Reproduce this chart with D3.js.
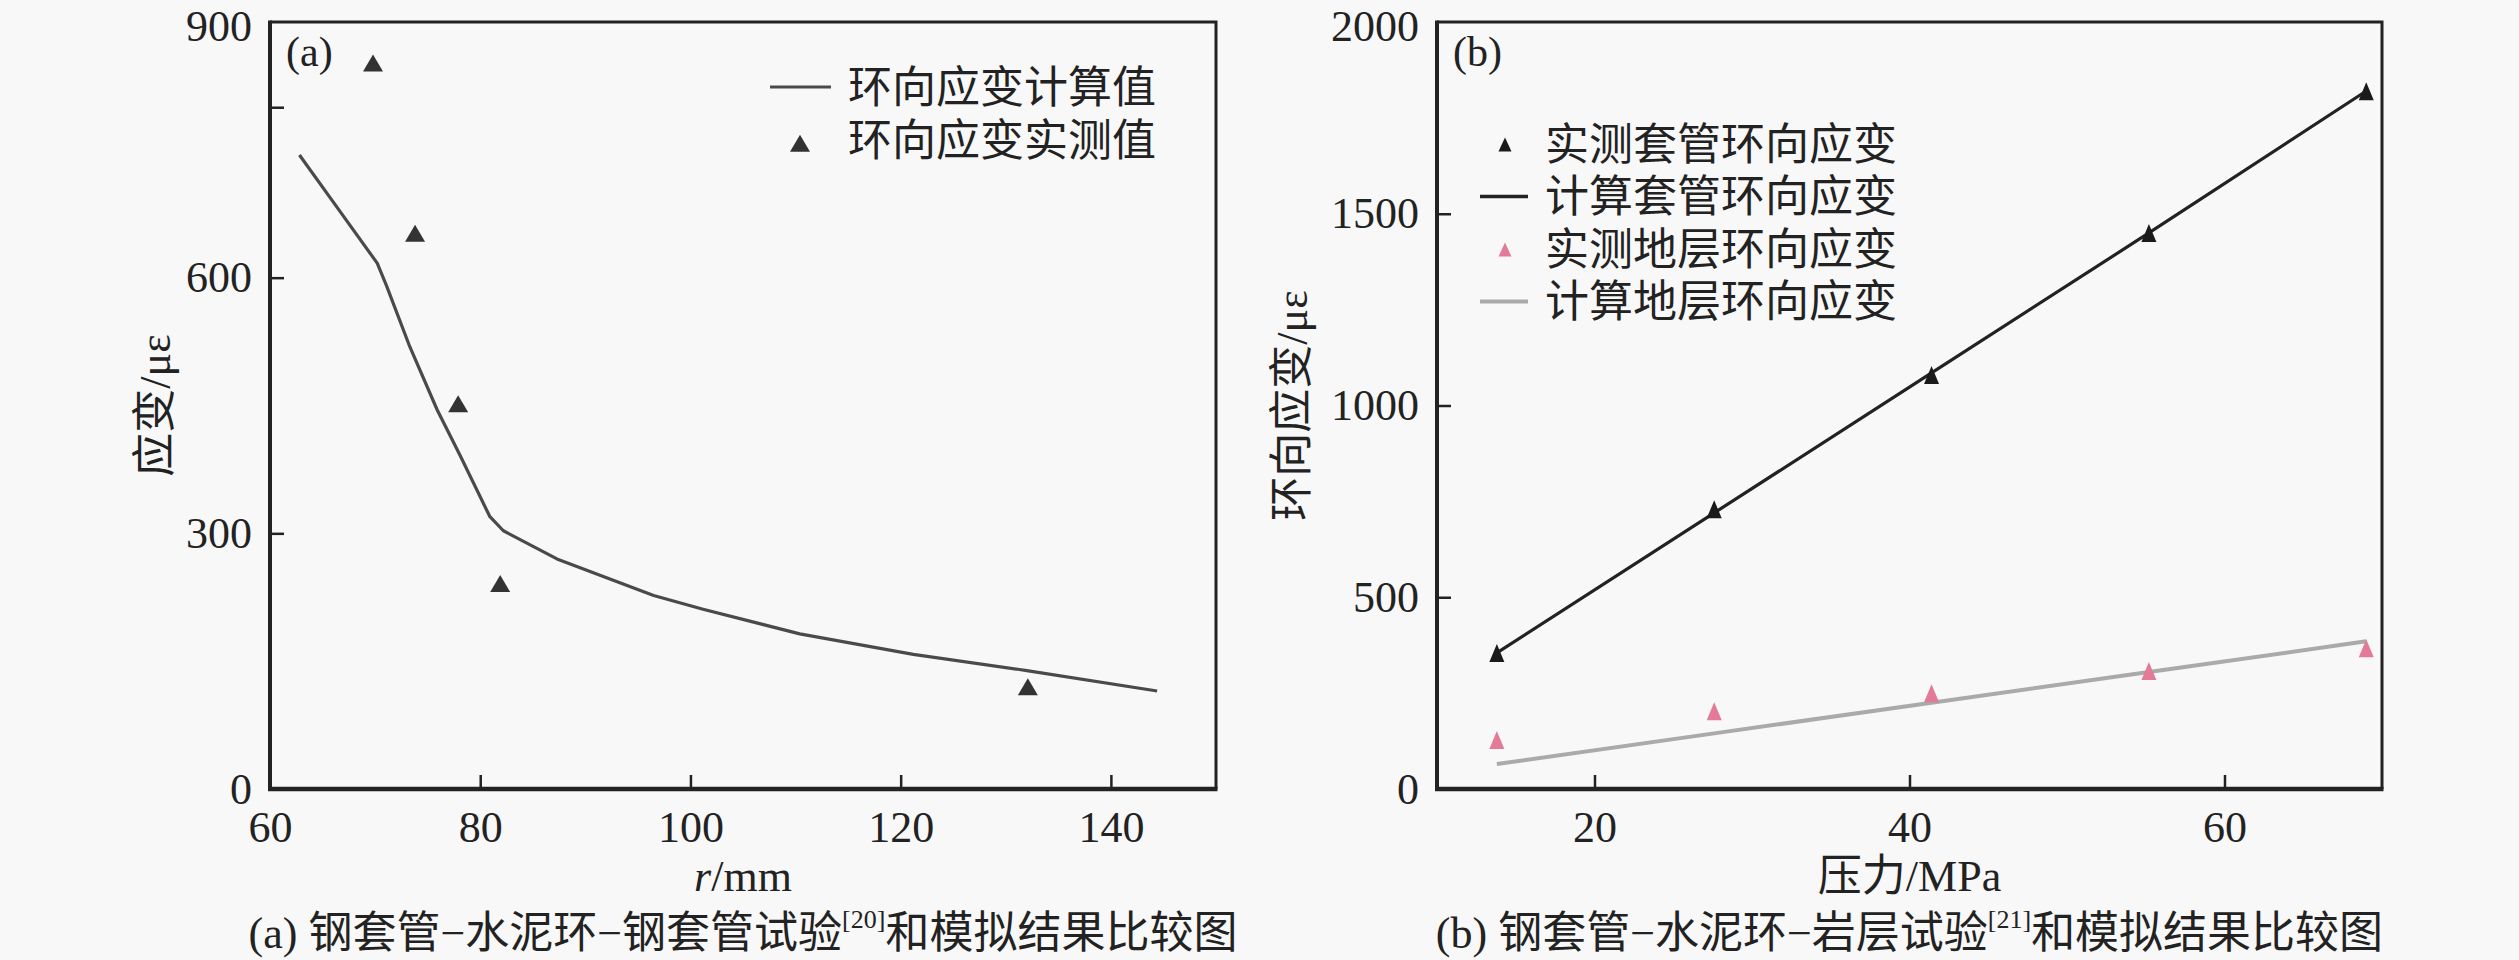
<!DOCTYPE html>
<html>
<head>
<meta charset="utf-8">
<script src="https://cdn.jsdelivr.net/npm/d3@7"></script>
<style>
    body { margin: 0; background: #f8f8f8; }
    svg { display: block; }
    text { font-family: "Liberation Serif", "Noto Sans CJK SC", serif; fill: #222; }
</style>
</head>
<body>
<div id="chart"></div>
<script>
// panel (a): radius vs strain
const radiusCalc = [62.8, 66.3, 70.2, 71.1, 73.3, 75.9, 78.1, 80.9, 82.2, 87.3, 92.4, 96.5, 101.2, 110.4, 121.2, 132.0, 144.4];
const strainCalc = [744, 684, 617, 590, 519, 445, 391, 320, 303, 270, 246, 227, 211, 182, 158, 139, 115];
const radiusMeas = [69.8, 73.8, 77.9, 81.9, 132.1];
const strainMeas = [850, 650, 450, 239, 118];
const aXTicks = [60, 80, 100, 120, 140];
const aYLabels = [0, 300, 600, 900];
const aYMarks = [300, 600, 800];

// panel (b): pressure vs hoop strain
const pressure = [13.8, 27.6, 41.4, 55.2, 69.0];
const casingMeas = [350, 725, 1075, 1445, 1815];
const casingCalc = [355, 720, 1085, 1450, 1820];
const formationMeas = [123, 198, 245, 303, 362];
const formationCalc = [65, 145, 225, 305, 385];
const bXTicks = [20, 40, 60];
const bYLabels = [0, 500, 1000, 1500, 2000];
const bYMarks = [500, 1000, 1500];

const W = 2519, H = 960;
const plotTop = 22, plotBottom = 789;

const svg = d3.select("#chart").append("svg")
    .attr("width", W)
    .attr("height", H);

svg.append("rect").attr("width", W).attr("height", H).attr("fill", "#f8f8f8");

// triangle that can be narrower than equilateral
function tri(w, h) {
    return {
        draw(ctx) {
            ctx.moveTo(0, -h * 0.6);
            ctx.lineTo(w / 2, h * 0.4);
            ctx.lineTo(-w / 2, h * 0.4);
            ctx.closePath();
        }
    };
}

function panel(opt) {
    const x = d3.scaleLinear().domain(opt.xDomain).range([opt.left, opt.right]);
    const y = d3.scaleLinear().domain(opt.yDomain).range([plotBottom, plotTop]);
    const g = svg.append("g");

    // x tick marks + labels
    g.append("g")
        .attr("transform", `translate(0,${plotBottom})`)
        .call(d3.axisBottom(x).tickValues(opt.xTicks).tickSizeInner(-14).tickSizeOuter(0).tickPadding(22).tickFormat(d3.format("d")))
        .attr("font-family", null)
        .call(a => a.select(".domain").remove())
        .call(a => a.selectAll("line").attr("stroke", "#222").attr("stroke-width", 2.5))
        .call(a => a.selectAll("text").attr("font-size", 44).attr("fill", "#222"));

    // y labels
    const yMax = opt.yDomain[1];
    g.append("g")
        .attr("transform", `translate(${opt.left},0)`)
        .call(d3.axisLeft(y).tickValues(opt.yLabels).tickSize(0).tickPadding(18).tickFormat(d3.format("d")))
        .attr("font-family", null)
        .call(a => a.select(".domain").remove())
        .call(a => a.selectAll("text").attr("font-size", 44).attr("fill", "#222")
            .attr("dy", d => d === yMax ? "0.42em" : "0.32em"));

    // y tick marks (inward)
    g.append("g")
        .attr("transform", `translate(${opt.left},0)`)
        .call(d3.axisLeft(y).tickValues(opt.yMarks).tickSize(-14).tickFormat(""))
        .call(a => a.select(".domain").remove())
        .call(a => a.selectAll("line").attr("stroke", "#222").attr("stroke-width", 2.5));

    // frame
    g.append("path")
        .attr("d", `M${opt.left},${plotTop}H${opt.right}V${plotBottom}`)
        .attr("fill", "none").attr("stroke", "#222").attr("stroke-width", 3);
    g.append("line")
        .attr("x1", opt.left).attr("x2", opt.left).attr("y1", plotTop - 1.5).attr("y2", plotBottom + 2)
        .attr("stroke", "#222").attr("stroke-width", 4);
    g.append("line")
        .attr("x1", opt.left - 2).attr("x2", opt.right + 1.5).attr("y1", plotBottom).attr("y2", plotBottom)
        .attr("stroke", "#222").attr("stroke-width", 4.5);

    // titles
    g.append("text")
        .attr("x", opt.left + 16).attr("y", 52)
        .attr("dominant-baseline", "central")
        .attr("font-size", 42)
        .text(opt.tag);

    g.append("text")
        .attr("transform", `translate(${opt.yTitleX},${(plotTop + plotBottom) / 2}) rotate(-90)`)
        .attr("text-anchor", "middle")
        .attr("dominant-baseline", "central")
        .attr("font-size", 44)
        .text(opt.yTitle);

    const xt = g.append("text")
        .attr("x", (opt.left + opt.right) / 2).attr("y", 876)
        .attr("text-anchor", "middle")
        .attr("dominant-baseline", "central")
        .attr("font-size", 44);
    opt.xTitle.forEach(p => xt.append("tspan").attr("font-style", p.italic ? "italic" : null).text(p.t));

    const cap = g.append("text")
        .attr("x", (opt.left + opt.right) / 2).attr("y", 933)
        .attr("text-anchor", "middle")
        .attr("dominant-baseline", "central")
        .attr("font-size", 44);
    cap.append("tspan").text(opt.caption[0]);
    cap.append("tspan").attr("font-size", 26).attr("dy", -14).text(opt.caption[1]);
    cap.append("tspan").attr("dy", 14).text(opt.caption[2]);

    return { g, x, y };
}

// ---------- panel (a)
const A = panel({
    left: 270, right: 1216,
    xDomain: [60, 150], yDomain: [0, 900],
    xTicks: aXTicks, yLabels: aYLabels, yMarks: aYMarks,
    tag: "(a)", yTitle: "应变/με", yTitleX: 155,
    xTitle: [{ t: "r", italic: true }, { t: "/mm" }],
    caption: ["(a) 钢套管−水泥环−钢套管试验", "[20]", "和模拟结果比较图"]
});

const lineA = d3.line().x(d => A.x(d[0])).y(d => A.y(d[1]));
A.g.append("path")
    .datum(d3.zip(radiusCalc, strainCalc))
    .attr("d", lineA)
    .attr("fill", "none").attr("stroke", "#4a4a4a").attr("stroke-width", 3.2)
    .attr("stroke-linejoin", "round");

A.g.selectAll(".tri")
    .data(d3.zip(radiusMeas, strainMeas))
    .join("path")
    .attr("transform", d => `translate(${A.x(d[0])},${A.y(d[1])})`)
    .attr("d", d3.symbol(tri(20, 17)))
    .attr("fill", "#333");

// legend (a)
A.g.append("line").attr("x1", 770).attr("x2", 831).attr("y1", 87).attr("y2", 87)
    .attr("stroke", "#4a4a4a").attr("stroke-width", 3.2);
A.g.append("text").attr("x", 848).attr("y", 88).attr("dominant-baseline", "central")
    .attr("font-size", 44).text("环向应变计算值");
A.g.append("path").attr("transform", "translate(800,145)").attr("d", d3.symbol(tri(20, 17))).attr("fill", "#333");
A.g.append("text").attr("x", 848).attr("y", 141).attr("dominant-baseline", "central")
    .attr("font-size", 44).text("环向应变实测值");

// ---------- panel (b)
const B = panel({
    left: 1437, right: 2382,
    xDomain: [10, 70], yDomain: [0, 2000],
    xTicks: bXTicks, yLabels: bYLabels, yMarks: bYMarks,
    tag: "(b)", yTitle: "环向应变/με", yTitleX: 1292,
    xTitle: [{ t: "压力/MPa" }],
    caption: ["(b) 钢套管−水泥环−岩层试验", "[21]", "和模拟结果比较图"]
});

const lineB = d3.line().x(d => B.x(d[0])).y(d => B.y(d[1]));
B.g.append("path")
    .datum(d3.zip(pressure, formationCalc))
    .attr("d", lineB)
    .attr("fill", "none").attr("stroke", "#aaaaaa").attr("stroke-width", 4);
B.g.append("path")
    .datum(d3.zip(pressure, casingCalc))
    .attr("d", lineB)
    .attr("fill", "none").attr("stroke", "#222").attr("stroke-width", 3.2);

B.g.selectAll(".tri-c")
    .data(d3.zip(pressure, casingMeas))
    .join("path")
    .attr("transform", d => `translate(${B.x(d[0])},${B.y(d[1])})`)
    .attr("d", d3.symbol(tri(15, 18)))
    .attr("fill", "#1a1a1a");
B.g.selectAll(".tri-f")
    .data(d3.zip(pressure, formationMeas))
    .join("path")
    .attr("transform", d => `translate(${B.x(d[0])},${B.y(d[1])})`)
    .attr("d", d3.symbol(tri(15, 18)))
    .attr("fill", "#e27a98");

// legend (b)
const legB = [
    { label: "实测套管环向应变", kind: "tri", color: "#1a1a1a" },
    { label: "计算套管环向应变", kind: "line", color: "#222", w: 3.5 },
    { label: "实测地层环向应变", kind: "tri", color: "#e27a98" },
    { label: "计算地层环向应变", kind: "line", color: "#aaaaaa", w: 4 }
];
legB.forEach((d, i) => {
    const cy = 144 + i * 52.5;
    if (d.kind === "tri") {
        B.g.append("path").attr("transform", `translate(1505,${cy + 2})`)
            .attr("d", d3.symbol(tri(13, 14))).attr("fill", d.color);
    } else {
        B.g.append("line").attr("x1", 1480).attr("x2", 1528).attr("y1", cy).attr("y2", cy)
            .attr("stroke", d.color).attr("stroke-width", d.w);
    }
    B.g.append("text").attr("x", 1545).attr("y", cy + 1).attr("dominant-baseline", "central")
        .attr("font-size", 44).text(d.label);
});
</script>
</body>
</html>
